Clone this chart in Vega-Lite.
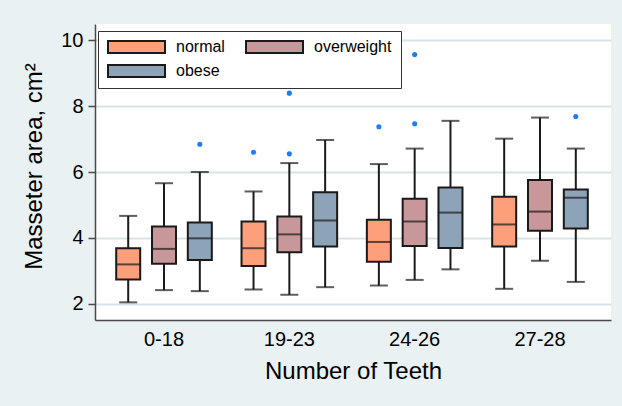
{
  "$schema": "https://vega.github.io/schema/vega-lite/v6.json",
  "width": 516,
  "height": 296,
  "autosize": {"type": "none"},
  "padding": {"left": 95, "top": 24, "right": 11, "bottom": 86},
  "background": "#e9f1f3",
  "datasets": {
    "boxes": [
      {"teeth": "0-18", "bmi": "normal", "lo": 2.05, "q1": 2.74, "med": 3.2, "q3": 3.69, "hi": 4.67},
      {"teeth": "0-18", "bmi": "overweight", "lo": 2.42, "q1": 3.22, "med": 3.67, "q3": 4.35, "hi": 5.66},
      {"teeth": "0-18", "bmi": "obese", "lo": 2.39, "q1": 3.33, "med": 3.99, "q3": 4.47, "hi": 6.0},
      {"teeth": "19-23", "bmi": "normal", "lo": 2.44, "q1": 3.15, "med": 3.69, "q3": 4.5, "hi": 5.41},
      {"teeth": "19-23", "bmi": "overweight", "lo": 2.28, "q1": 3.57, "med": 4.11, "q3": 4.65, "hi": 6.27},
      {"teeth": "19-23", "bmi": "obese", "lo": 2.51, "q1": 3.74, "med": 4.53, "q3": 5.39, "hi": 6.97},
      {"teeth": "24-26", "bmi": "normal", "lo": 2.56, "q1": 3.28, "med": 3.88, "q3": 4.55, "hi": 6.24},
      {"teeth": "24-26", "bmi": "overweight", "lo": 2.73, "q1": 3.76, "med": 4.5, "q3": 5.19, "hi": 6.71},
      {"teeth": "24-26", "bmi": "obese", "lo": 3.05, "q1": 3.7, "med": 4.77, "q3": 5.53, "hi": 7.55},
      {"teeth": "27-28", "bmi": "normal", "lo": 2.46, "q1": 3.74, "med": 4.41, "q3": 5.25, "hi": 7.01},
      {"teeth": "27-28", "bmi": "overweight", "lo": 3.31, "q1": 4.22, "med": 4.8, "q3": 5.76, "hi": 7.65},
      {"teeth": "27-28", "bmi": "obese", "lo": 2.67, "q1": 4.29, "med": 5.22, "q3": 5.47, "hi": 6.71}
    ],
    "outliers": [
      {"teeth": "0-18", "bmi": "obese", "value": 6.84},
      {"teeth": "19-23", "bmi": "normal", "value": 6.6},
      {"teeth": "19-23", "bmi": "overweight", "value": 6.55},
      {"teeth": "19-23", "bmi": "overweight", "value": 8.39},
      {"teeth": "24-26", "bmi": "normal", "value": 7.37},
      {"teeth": "24-26", "bmi": "overweight", "value": 7.46},
      {"teeth": "24-26", "bmi": "overweight", "value": 9.56},
      {"teeth": "27-28", "bmi": "obese", "value": 7.68}
    ]
  },
  "encoding": {
    "x": {
      "field": "teeth", "type": "nominal", "sort": ["0-18", "19-23", "24-26", "27-28"],
      "scale": {"paddingInner": 0, "paddingOuter": 0.0586, "align": 0.432},
      "axis": {
        "title": "Number of Teeth", "labelAngle": 0, "ticks": false, "grid": false,
        "labelFontSize": 20, "labelPadding": 9, "titleFontSize": 24, "titlePadding": 10
      }
    },
    "xOffset": {
      "field": "bmi", "type": "nominal",
      "scale": {"domain": ["normal", "overweight", "obese"], "paddingInner": 0, "paddingOuter": 0.25}
    }
  },
  "layer": [
    {
      "data": {"name": "boxes"},
      "mark": {"type": "rule", "color": "#1a1a1a", "strokeWidth": 2},
      "encoding": {
        "y": {
          "field": "lo", "type": "quantitative",
          "scale": {"domain": [1.515, 10.485], "nice": false, "zero": false},
          "axis": {
            "title": "Masseter area, cm²", "values": [2, 4, 6, 8, 10], "grid": true,
            "labelFontSize": 20, "tickSize": 7, "labelPadding": 5,
            "titleFontSize": 24, "titlePadding": 14, "titleY": 142
          }
        },
        "y2": {"field": "hi"}
      }
    },
    {
      "data": {"name": "boxes"},
      "mark": {"type": "tick", "color": "#1a1a1a", "thickness": 2, "size": 18},
      "encoding": {"y": {"field": "lo", "type": "quantitative"}}
    },
    {
      "data": {"name": "boxes"},
      "mark": {"type": "tick", "color": "#1a1a1a", "thickness": 2, "size": 18},
      "encoding": {"y": {"field": "hi", "type": "quantitative"}}
    },
    {
      "data": {"name": "boxes"},
      "mark": {"type": "bar", "size": 24, "stroke": "#1a1a1a", "strokeWidth": 2, "fillOpacity": 1},
      "encoding": {
        "y": {"field": "q1", "type": "quantitative"},
        "y2": {"field": "q3"},
        "fill": {
          "field": "bmi", "type": "nominal",
          "scale": {"domain": ["normal", "overweight", "obese"], "range": ["#fd9f7a", "#c8979a", "#8ca3b8"]},
          "legend": {
            "title": null, "orient": "none", "legendX": 3, "legendY": 7, "columns": 2,
            "direction": "horizontal",
            "symbolType": "M-1,-0.21H1V0.21H-1Z", "symbolSize": 3249,
            "symbolStrokeColor": "#1a1a1a", "symbolStrokeWidth": 2, "symbolOpacity": 1,
            "clipHeight": 14, "labelFontSize": 16, "labelOffset": 10, "columnPadding": 20,
            "rowPadding": 8, "padding": 9, "fillColor": "white", "strokeColor": "#333333",
            "labelColor": "#000000"
          }
        }
      }
    },
    {
      "data": {"name": "boxes"},
      "mark": {"type": "tick", "color": "#1a1a1a", "thickness": 2, "size": 24},
      "encoding": {"y": {"field": "med", "type": "quantitative"}}
    },
    {
      "data": {"name": "outliers"},
      "mark": {"type": "point", "filled": true, "color": "#1a7ef7", "size": 26, "opacity": 1},
      "encoding": {"y": {"field": "value", "type": "quantitative"}}
    }
  ],
  "config": {
    "font": "Liberation Sans",
    "view": {"fill": "white", "stroke": null},
    "axis": {
      "labelColor": "#000000", "titleColor": "#000000", "titleFontWeight": "normal",
      "domainColor": "#4a4a4a", "domainWidth": 1.5, "tickColor": "#4a4a4a", "tickWidth": 1.5,
      "gridColor": "#d9e4e9", "gridWidth": 2
    },
    "legend": {"labelFont": "Liberation Sans"}
  }
}
